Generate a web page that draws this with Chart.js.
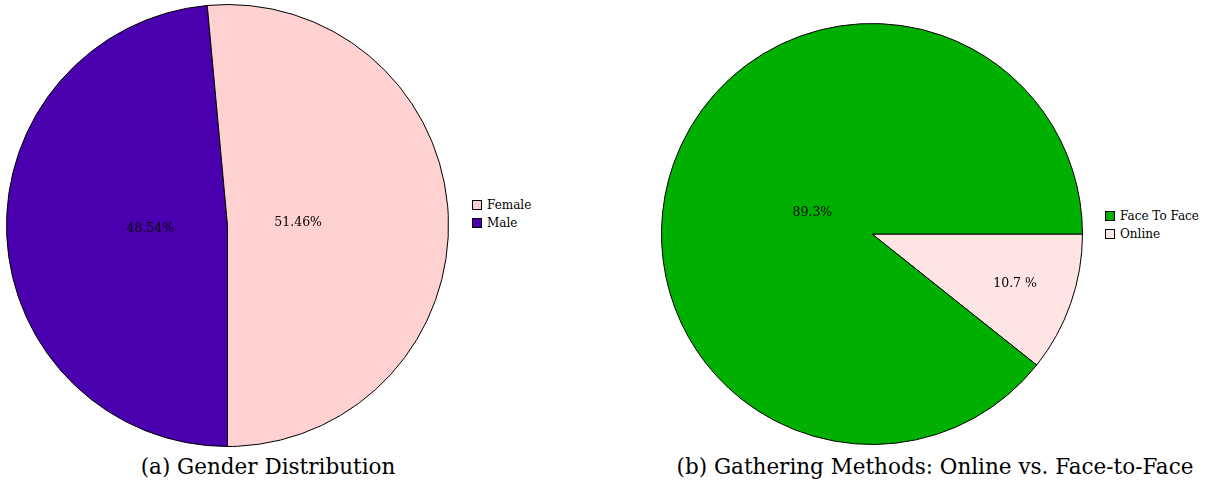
<!DOCTYPE html>
<html>
<head>
<meta charset="utf-8">
<script src="https://cdn.jsdelivr.net/npm/chart.js@4/dist/chart.umd.min.js"></script>
<style>
body{margin:0;background:#fff;width:1207px;height:490px;position:relative;overflow:hidden;font-family:"DejaVu Serif",serif;color:#000}
.pie{position:absolute}
.legend{position:absolute;font-size:12px;line-height:18px}
.legend div{display:flex;align-items:center;white-space:nowrap}
.legend span.box{display:inline-block;width:8px;height:8px;border:1px solid #000;margin-right:5px}
.cap{position:absolute;top:454px;font-size:21.5px;white-space:nowrap;transform:translateX(-50%)}
</style>
</head>
<body>
<div class="pie" style="left:6px;top:4px;width:443px;height:443px"><canvas id="genderChart"></canvas></div>
<div class="legend" id="genderLegend" style="left:472px;top:196px"></div>
<div class="cap" style="left:268px">(a) Gender Distribution</div>

<div class="pie" style="left:661px;top:23px;width:422px;height:422px"><canvas id="methodChart"></canvas></div>
<div class="legend" id="methodLegend" style="left:1105px;top:207px"></div>
<div class="cap" style="left:935px">(b) Gathering Methods: Online vs. Face-to-Face</div>

<script>
// legend order as in the figure
const genderLabels=['Female','Male']
const genderValues=[51.46,48.54]
const genderText=['51.46%','48.54%']
const genderColors=['#FFD1D1','#4B00B0']

const methodLabels=['Face To Face','Online']
const methodValues=[89.3,10.7]
const methodText=['89.3%','10.7 %']
const methodColors=['#00B000','#FFE4E4']

// slices are drawn clockwise in chart.js, the figure goes counterclockwise,
// so feed the data reversed and rotate the start angle
const rev=a=>a.slice().reverse()

const sliceLabels={
  id:'sliceLabels',
  afterDatasetsDraw(chart,args,opts){
    const ctx=chart.ctx
    const meta=chart.getDatasetMeta(0)
    ctx.save()
    ctx.font='12.5px "DejaVu Serif", serif'
    ctx.fillStyle='#000'
    ctx.textAlign='center'
    ctx.textBaseline='middle'
    meta.data.forEach((arc,i)=>{
      const p=arc.getProps(['x','y','startAngle','endAngle','outerRadius'],true)
      const mid=(p.startAngle+p.endAngle)/2
      const r=p.outerRadius*opts.dist[i]
      ctx.fillText(opts.text[i],p.x+Math.cos(mid)*r,p.y+Math.sin(mid)*r)
    })
    ctx.restore()
  }
}

function buildLegend(el,labels,colors){
  labels.forEach((l,i)=>{
    const row=document.createElement('div')
    row.innerHTML='<span class="box" style="background:'+colors[i]+'"></span>'+l
    el.appendChild(row)
  })
}

function makePie(id,labels,values,colors,text,rotation,dist){
  return new Chart(document.getElementById(id),{
    type:'pie',
    data:{labels:rev(labels),datasets:[{data:rev(values),backgroundColor:rev(colors),borderColor:'#000',borderWidth:1}]},
    options:{
      animation:false,
      responsive:true,
      maintainAspectRatio:false,
      rotation:rotation,
      layout:{padding:0},
      plugins:{legend:{display:false},tooltip:{enabled:false},sliceLabels:{text:rev(text),dist:dist}}
    },
    plugins:[sliceLabels]
  })
}

makePie('genderChart',genderLabels,genderValues,genderColors,genderText,180,[0.35,0.32])
makePie('methodChart',methodLabels,methodValues,methodColors,methodText,90,[0.72,0.30])
buildLegend(document.getElementById('genderLegend'),genderLabels,genderColors)
buildLegend(document.getElementById('methodLegend'),methodLabels,methodColors)
</script>
</body>
</html>
